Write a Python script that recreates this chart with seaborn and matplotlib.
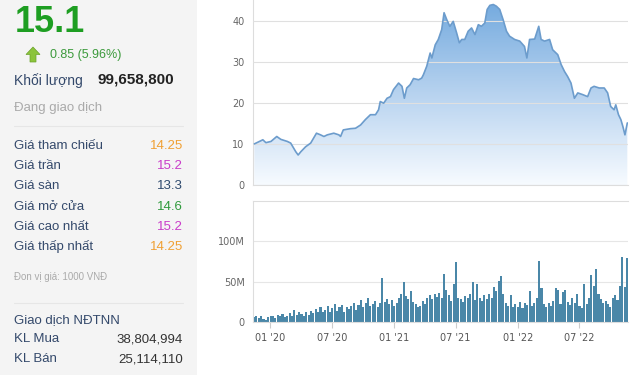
import matplotlib
matplotlib.use('Agg')
import matplotlib.pyplot as plt
import matplotlib.dates as mdates
from matplotlib.colors import LinearSegmentedColormap
from matplotlib.patches import Rectangle, Polygon
import seaborn as sns
import pandas as pd
import numpy as np

# gia dong cua (nghin VND), doc tu bieu do
price_dates = ['2019-11-16', '2019-12-11', '2019-12-20', '2020-01-04', '2020-01-21', '2020-02-02',
               '2020-02-21', '2020-03-02', '2020-03-17', '2020-03-24', '2020-04-01', '2020-04-15',
               '2020-04-30', '2020-05-17', '2020-05-29', '2020-06-08', '2020-06-18', '2020-07-07',
               '2020-07-22', '2020-07-27', '2020-08-04', '2020-08-25', '2020-09-09', '2020-09-24',
               '2020-10-08', '2020-10-23', '2020-11-07', '2020-11-16', '2020-11-21', '2020-12-01',
               '2020-12-11', '2020-12-21', '2020-12-30', '2021-01-14', '2021-01-24', '2021-01-31',
               '2021-02-07', '2021-02-17', '2021-02-27', '2021-03-14', '2021-03-23', '2021-03-28',
               '2021-04-07', '2021-04-17', '2021-04-22', '2021-05-02', '2021-05-11', '2021-05-21',
               '2021-05-28', '2021-06-05', '2021-06-14', '2021-06-24', '2021-07-04', '2021-07-12',
               '2021-07-19', '2021-07-28', '2021-08-07', '2021-08-17', '2021-08-27', '2021-09-06',
               '2021-09-15', '2021-09-25', '2021-10-02', '2021-10-10', '2021-10-20', '2021-10-29',
               '2021-11-08', '2021-11-18', '2021-11-28', '2021-12-07', '2021-12-22', '2022-01-06',
               '2022-01-20', '2022-01-27', '2022-02-04', '2022-02-19', '2022-03-03', '2022-03-10',
               '2022-03-20', '2022-04-04', '2022-04-13', '2022-04-28', '2022-05-08', '2022-05-18',
               '2022-05-27', '2022-06-06', '2022-06-16', '2022-06-26', '2022-07-10', '2022-07-25',
               '2022-08-04', '2022-08-13', '2022-08-28', '2022-09-12', '2022-09-22', '2022-10-01',
               '2022-10-11', '2022-10-16', '2022-10-24', '2022-10-31', '2022-11-06', '2022-11-12',
               '2022-11-19']
prices = [10.0, 11.0, 10.3, 10.6, 11.8, 11.1, 10.6, 10.2, 8.1, 7.3, 8.1, 9.3,
          10.2, 12.6, 12.2, 11.8, 12.2, 12.6, 12.2, 11.8, 13.4, 13.7, 13.8, 14.6,
          15.9, 17.1, 17.1, 18.3, 20.3, 19.9, 21.1, 21.5, 23.2, 24.8, 24.0, 21.1,
          23.6, 24.4, 25.9, 25.6, 26.0, 26.8, 28.9, 32.1, 30.9, 34.1, 35.4, 37.8,
          41.9, 40.2, 38.6, 39.8, 37.0, 34.6, 35.4, 35.4, 37.4, 38.2, 36.6, 39.0,
          38.6, 39.4, 42.7, 43.7, 43.9, 43.5, 42.7, 40.2, 37.4, 36.2, 35.4, 35.0,
          33.7, 30.9, 35.4, 35.5, 38.6, 35.4, 35.0, 35.4, 32.9, 31.7, 29.3, 27.6,
          26.4, 24.8, 21.1, 22.4, 22.0, 21.5, 23.6, 24.0, 23.6, 23.6, 22.4, 19.1,
          18.3, 19.5, 17.1, 15.9, 14.2, 12.2, 15.1]

# khoi luong theo tuan (trieu cp), tuan dau tien 15/11/2019
volume_start = '2019-11-15'
volumes = [6, 8, 5, 7, 4, 3, 6, 8, 7, 5,
           9, 7, 10, 6, 8, 11, 7, 15, 9, 12,
           10, 8, 12, 9, 14, 11, 16, 13, 18, 12,
           15, 20, 13, 17, 22, 14, 18, 21, 12, 19,
           16, 20, 24, 15, 21, 27, 18, 23, 30, 20,
           22, 26, 19, 24, 55, 25, 28, 22, 27, 20,
           24, 30, 35, 49, 32, 28, 38, 25, 22, 18,
           20, 26, 22, 30, 33, 28, 35, 31, 36, 30,
           59, 40, 33, 26, 47, 75, 30, 28, 25, 32,
           30, 35, 49, 27, 47, 30, 26, 33, 28, 35,
           30, 44, 38, 51, 57, 35, 24, 20, 34, 18,
           22, 19, 25, 17, 23, 21, 38, 20, 24, 30,
           76, 42, 22, 18, 24, 20, 26, 42, 40, 22,
           37, 40, 25, 21, 30, 24, 35, 20, 17, 47,
           22, 30, 58, 45, 66, 35, 28, 24, 26, 22,
           18, 30, 34, 27, 45, 80, 44, 79]

tick_dates = ['2020-01-01', '2020-07-01', '2021-01-01', '2021-07-01', '2022-01-01', '2022-07-01']

# bang thong tin ben trai
info_labels = ['Giá tham chiếu', 'Giá trần', 'Giá sàn', 'Giá mở cửa', 'Giá cao nhất', 'Giá thấp nhất']
info_values = ['14.25', '15.2', '13.3', '14.6', '15.2', '14.25']
info_colors = ['#f0a033', '#c93cc9', '#2e4a6e', '#2f9a3c', '#c93cc9', '#f0a033']
nn_labels = ['KL Mua', 'KL Bán']
nn_values = ['38,804,994', '25,114,110']

sns.set_theme(style='white')
plt.rcParams['font.family'] = ['Liberation Sans', 'DejaVu Sans']

W, H = 640, 375
fig = plt.figure(figsize=(6.4, 3.75), dpi=100)
fig.patch.set_facecolor('white')


def fx(x):
    return x / W


def fy(y):
    return 1 - y / H


fig.add_artist(Rectangle((0, 0), fx(197), 1, transform=fig.transFigure,
                         facecolor='#f4f4f4', edgecolor='none', zorder=0))

label_col = '#34496b'

# --- cot thong tin ---
fig.text(fx(15), fy(23), '15.1', fontsize=26, weight='bold', color='#1e9e22', va='center')
arrow = Polygon([(fx(33), fy(47)), (fx(40), fy(54.5)), (fx(36), fy(54.5)), (fx(36), fy(62)),
                 (fx(30), fy(62)), (fx(30), fy(54.5)), (fx(26), fy(54.5))],
                closed=True, transform=fig.transFigure, facecolor='#8cc43c',
                edgecolor='#6aa22a', lw=0.5)
fig.add_artist(arrow)
fig.text(fx(50), fy(55), '0.85 (5.96%)', fontsize=9, color='#3c9a3c', va='center')
fig.text(fx(14), fy(81), 'Khối lượng', fontsize=10, color=label_col, va='center')
fig.text(fx(97), fy(80), '99,658,800', fontsize=11, weight='bold', color='#222222', va='center')
fig.text(fx(14), fy(108), 'Đang giao dịch', fontsize=9.5, color='#aaaaaa', va='center')
fig.add_artist(plt.Line2D([fx(14), fx(183)], [fy(126), fy(126)], color='#e6e6e6', lw=0.8))

for i, (lab, val, col) in enumerate(zip(info_labels, info_values, info_colors)):
    y = 146 + i * 20.2
    fig.text(fx(14), fy(y), lab, fontsize=9.5, color=label_col, va='center')
    fig.text(fx(183), fy(y), val, fontsize=9.5, color=col, va='center', ha='right')

fig.text(fx(14), fy(277), 'Đon vị giá: 1000 VNĐ', fontsize=7, color='#aaaaaa', va='center')
fig.add_artist(plt.Line2D([fx(14), fx(183)], [fy(303), fy(303)], color='#e6e6e6', lw=0.8))
fig.text(fx(14), fy(320), 'Giao dịch NĐTNN', fontsize=9.5, color=label_col, va='center')
for i, (lab, val) in enumerate(zip(nn_labels, nn_values)):
    y = 339 + i * 20.5
    fig.text(fx(14), fy(y), lab, fontsize=9.5, color=label_col, va='center')
    fig.text(fx(183), fy(y), val, fontsize=9.5, color='#333333', va='center', ha='right')

# --- bieu do gia ---
x0 = mdates.date2num(pd.Timestamp('2019-11-12'))
x1 = mdates.date2num(pd.Timestamp('2022-11-21'))

df_price = pd.DataFrame({'date': pd.to_datetime(price_dates), 'price': prices})
df_price['x'] = mdates.date2num(df_price['date'])

ax1 = fig.add_axes([fx(253), fy(185), 375 / W, 185 / H])
fill = ax1.fill_between(df_price['x'], df_price['price'], 0, facecolor='none', edgecolor='none')
grad = np.linspace(0, 1, 256).reshape(-1, 1)
cmap = LinearSegmentedColormap.from_list('fade', ['#f7fbff', '#b6d2ef', '#72a9de'])
im = ax1.imshow(grad, extent=[x0, x1, 0, 45], origin='lower', aspect='auto', cmap=cmap, zorder=1)
im.set_clip_path(fill.get_paths()[0], transform=ax1.transData)
sns.lineplot(data=df_price, x='x', y='price', ax=ax1, color='#6c9ccc', lw=1.2, zorder=3)

ax1.set_xlim(x0, x1)
ax1.set_ylim(0, 45)
ax1.set_yticks([0, 10, 20, 30, 40])
ax1.set_xticks([])
ax1.set_xlabel('')
ax1.set_ylabel('')
ax1.set_axisbelow(False)
ax1.grid(axis='y', color='#e0e0e0', lw=0.8)
ax1.tick_params(axis='y', length=0, pad=6, labelsize=7, labelcolor='#666666')
for s in ['top', 'right']:
    ax1.spines[s].set_visible(False)
for s in ['left', 'bottom']:
    ax1.spines[s].set_color('#dddddd')
    ax1.spines[s].set_linewidth(0.8)

# --- bieu do khoi luong ---
df_vol = pd.DataFrame({'week': pd.date_range(volume_start, periods=len(volumes), freq='W-FRI'),
                       'vol': volumes})
df_vol['x'] = mdates.date2num(df_vol['week'])

ax2 = fig.add_axes([fx(253), fy(322), 375 / W, (322 - 201) / H])
sns.barplot(data=df_vol, x='x', y='vol', ax=ax2, native_scale=True, color='#4a87a8',
            saturation=1, width=0.88, errorbar=None, linewidth=0)
ax2.set_xlim(x0, x1)
ax2.set_ylim(0, 150)
ax2.set_yticks([0, 50, 100])
ax2.set_yticklabels(['0', '50M', '100M'])
ax2.set_xticks(mdates.date2num(pd.to_datetime(tick_dates)))
ax2.xaxis.set_major_formatter(mdates.DateFormatter("%m '%y"))
ax2.set_xlabel('')
ax2.set_ylabel('')
ax2.grid(axis='y', color='#e6e6e6', lw=0.8)
ax2.set_axisbelow(True)
ax2.tick_params(axis='y', length=0, pad=6, labelsize=7, labelcolor='#666666')
ax2.tick_params(axis='x', bottom=True, length=4, width=0.8, color='#cccccc', pad=4,
                labelsize=7, labelcolor='#555555')
ax2.spines['right'].set_visible(False)
for s in ['left', 'bottom', 'top']:
    ax2.spines[s].set_color('#dddddd')
    ax2.spines[s].set_linewidth(0.8)

for ax in (ax1, ax2):
    for lbl in ax.get_xticklabels() + ax.get_yticklabels():
        lbl.set_family('DejaVu Sans')

fig.savefig('out.png', dpi=100)
